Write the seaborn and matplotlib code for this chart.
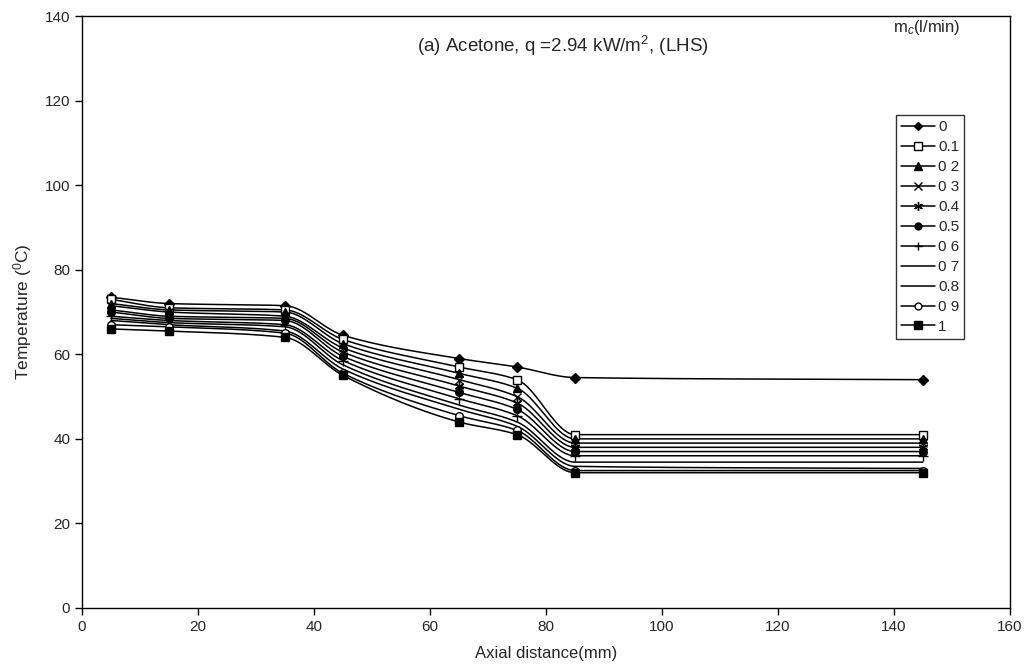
import numpy as np
import pandas as pd
import matplotlib
matplotlib.use("Agg")
import matplotlib.pyplot as plt
from matplotlib.lines import Line2D
import seaborn as sns

# Axial measurement positions (mm)
axial_mm = [5, 15, 35, 45, 65, 75, 85, 145]

# Coolant flow rates m_c (l/min)
flow_labels = ["0", "0.1", "0 2", "0 3", "0.4", "0.5", "0 6", "0 7", "0.8", "0 9", "1"]

# Wall temperature (deg C) for each flow rate, along the axial positions
temp_0 = [73.5, 72.0, 71.5, 64.5, 59.0, 57.0, 54.5, 54.0]
temp_01 = [73.0, 71.0, 70.5, 63.5, 57.0, 54.0, 41.0, 41.0]
temp_02 = [72.0, 70.5, 70.0, 62.5, 55.5, 52.0, 40.0, 40.0]
temp_03 = [71.5, 70.0, 69.0, 61.5, 54.0, 50.0, 39.0, 39.0]
temp_04 = [70.5, 69.0, 68.5, 60.5, 52.5, 48.5, 38.0, 38.0]
temp_05 = [70.0, 68.5, 68.0, 59.5, 51.0, 47.0, 37.0, 37.0]
temp_06 = [69.0, 68.0, 67.0, 58.5, 49.5, 45.5, 36.0, 36.0]
temp_07 = [68.5, 67.5, 66.5, 57.5, 48.0, 44.0, 34.5, 34.5]
temp_08 = [68.0, 67.0, 65.5, 56.5, 47.0, 43.0, 33.5, 33.0]
temp_09 = [67.0, 66.5, 65.0, 55.5, 45.5, 42.0, 32.5, 32.5]
temp_1 = [66.0, 65.5, 64.0, 55.0, 44.0, 41.0, 32.0, 32.0]

series = [temp_0, temp_01, temp_02, temp_03, temp_04, temp_05,
          temp_06, temp_07, temp_08, temp_09, temp_1]

# marker style for each flow rate: (marker, filled, size)
styles = [("D", True, 5), ("s", False, 6), ("^", True, 6), ("x", True, 6),
          ((6, 2, 0), True, 7), ("o", True, 5.5), ("+", True, 7),
          ("", True, 0), ("", True, 0), ("o", False, 5.5), ("s", True, 6)]

sns.set_style("white")
plt.rcParams["font.family"] = ["Liberation Sans", "DejaVu Sans"]
plt.rcParams["mathtext.fontset"] = "custom"
plt.rcParams["mathtext.rm"] = "Liberation Sans"
plt.rcParams["mathtext.it"] = "Liberation Sans:italic"

fig = plt.figure(figsize=(10.29, 6.71), dpi=100)
ax = fig.add_axes([0.0797, 0.0939, 0.9018, 0.8822])


def smooth_curve(x, y, n=40):
    """Monotone cubic (Fritsch-Carlson) path through the points."""
    x = np.asarray(x, float)
    y = np.asarray(y, float)
    h = np.diff(x)
    d = np.diff(y) / h
    m = np.zeros_like(y)
    m[0], m[-1] = d[0], d[-1]
    for i in range(1, len(x) - 1):
        if d[i - 1] * d[i] <= 0:
            m[i] = 0.0
        else:
            w1 = 2 * h[i] + h[i - 1]
            w2 = h[i] + 2 * h[i - 1]
            m[i] = (w1 + w2) / (w1 / d[i - 1] + w2 / d[i])
    px, py = [], []
    for i in range(len(x) - 1):
        t = np.linspace(0, 1, n)
        h00 = 2 * t ** 3 - 3 * t ** 2 + 1
        h10 = t ** 3 - 2 * t ** 2 + t
        h01 = -2 * t ** 3 + 3 * t ** 2
        h11 = t ** 3 - t ** 2
        px.extend(x[i] + t * h[i])
        py.extend(h00 * y[i] + h10 * h[i] * m[i] + h01 * y[i + 1] + h11 * h[i] * m[i + 1])
    return np.array(px), np.array(py)


handles = []
for label, temps, (mk, filled, ms) in zip(flow_labels, series, styles):
    sx, sy = smooth_curve(axial_mm, temps)
    ax.plot(sx, sy, color="black", lw=1.1, zorder=2)
    df = pd.DataFrame({"x": axial_mm, "T": temps})
    if mk != "":
        sns.lineplot(data=df, x="x", y="T", ax=ax, color="black", linestyle="none",
                     marker=mk, markersize=ms,
                     markerfacecolor="black" if filled else "white",
                     markeredgecolor="black", markeredgewidth=1.0, zorder=3)
    handles.append(Line2D([0], [0], color="black", lw=1.1, marker=mk if mk else None,
                          markersize=ms * 0.9,
                          markerfacecolor="black" if filled else "white",
                          markeredgecolor="black", label=label))

ax.set_xlim(0, 160)
ax.set_ylim(0, 140)
ax.set_xticks(np.arange(0, 161, 20))
ax.set_yticks(np.arange(0, 141, 20))
ax.tick_params(axis="both", direction="out", length=5, width=1, labelsize=11, color="black")
ax.tick_params(axis="both", which="both", bottom=True, left=True)
for side in ["left", "bottom", "top", "right"]:
    ax.spines[side].set_color("black")
    ax.spines[side].set_linewidth(1.0)

ax.set_xlabel("Axial distance(mm)", fontsize=12, labelpad=9)
ax.set_ylabel("Temperature ($^0$C)", fontsize=12.5, labelpad=8)

ax.text(0.518, 0.949, "(a) Acetone, q =2.94 kW/m$^2$, (LHS)", transform=ax.transAxes,
        ha="center", va="center", fontsize=13.5)
ax.text(0.91, 0.981, "m$_c$(l/min)", transform=ax.transAxes,
        ha="center", va="center", fontsize=12)

leg = ax.legend(handles=handles, loc="upper right", bbox_to_anchor=(0.951, 0.833),
                frameon=True, fancybox=False, fontsize=11, handlelength=2.2,
                handletextpad=0.2, labelspacing=0.39, borderpad=0.35,
                borderaxespad=0.0)
leg.get_frame().set_edgecolor("black")
leg.get_frame().set_linewidth(1.0)

fig.savefig("out.png", dpi=100, facecolor="white")
